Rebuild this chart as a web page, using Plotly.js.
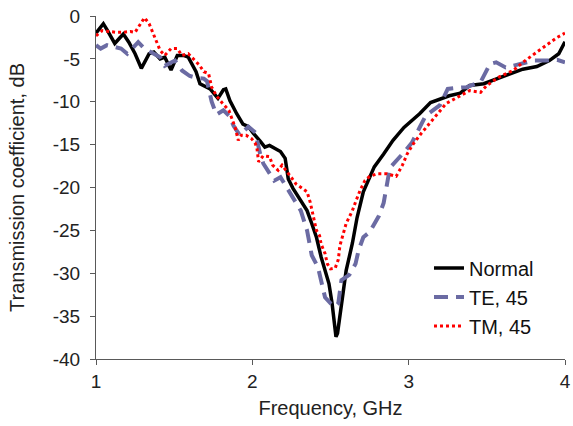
<!DOCTYPE html>
<html>
<head>
<meta charset="utf-8">
<script src="https://cdn.plot.ly/plotly-3.0.1.min.js"></script>
<style>html,body{margin:0;padding:0;background:#fff;}#chart{width:573px;height:426px;}</style>
</head>
<body>
<div id="chart"></div>
<script>
// Frequency (GHz) and transmission coefficient (dB)
const freqNormal = [1.0,1.02,1.047,1.07,1.09,1.12,1.15,1.175,1.21,1.25,1.29,1.34,1.37,1.41,1.44,1.48,1.52,1.56,1.59,1.64,1.665,1.73,1.78,1.815,1.83,1.857,1.9,1.94,1.975,2.007,2.05,2.08,2.11,2.18,2.21,2.23,2.26,2.31,2.35,2.38,2.41,2.44,2.47,2.49,2.51,2.535,2.545,2.56,2.58,2.6,2.64,2.67,2.71,2.75,2.78,2.84,2.9,2.97,3.02,3.07,3.14,3.19,3.26,3.33,3.39,3.48,3.54,3.65,3.73,3.82,3.9,3.96,4.0];
const normal = [-2.0,-1.5,-0.9,-1.6,-2.3,-3.2,-2.6,-2.1,-3.05,-4.4,-6.1,-4.4,-4.2,-5.0,-4.8,-6.3,-4.6,-4.6,-4.8,-6.5,-7.9,-8.5,-9.6,-8.6,-8.5,-9.9,-11.4,-12.6,-12.9,-13.7,-14.6,-15.3,-15.1,-15.8,-16.6,-19.0,-20.1,-21.5,-22.7,-24.2,-25.8,-28.1,-30.0,-31.2,-33.5,-37.4,-37.0,-35.1,-32.0,-29.7,-26.5,-23.5,-20.5,-18.8,-17.6,-16.1,-14.5,-13.0,-12.2,-11.4,-10.1,-9.8,-9.3,-9.0,-8.1,-7.9,-7.5,-6.7,-6.2,-5.9,-5.2,-4.4,-3.0];

const freqTE = [1.0,1.03,1.07,1.12,1.16,1.2,1.27,1.31,1.36,1.41,1.44,1.505,1.55,1.6,1.64,1.69,1.71,1.74,1.77,1.815,1.85,1.88,1.92,1.975,2.02,2.05,2.07,2.1,2.14,2.18,2.25,2.31,2.35,2.38,2.42,2.44,2.465,2.5,2.53,2.55,2.57,2.62,2.66,2.68,2.71,2.75,2.81,2.84,2.86,2.88,2.96,3.02,3.07,3.11,3.2,3.25,3.3,3.37,3.46,3.52,3.56,3.62,3.69,3.8,3.88,3.95,4.0];
const te45 = [-3.4,-3.8,-3.4,-3.6,-3.8,-4.4,-3.05,-3.8,-4.3,-4.8,-5.8,-5.2,-6.35,-7.0,-7.2,-7.3,-7.6,-10.0,-11.5,-11.0,-11.6,-12.8,-13.9,-12.9,-13.6,-16.1,-17.2,-18.0,-19.2,-18.8,-20.8,-22.7,-25.0,-27.9,-29.3,-31.0,-32.8,-33.5,-33.9,-33.5,-30.8,-30.2,-28.9,-27.3,-25.8,-25.2,-23.3,-21.8,-19.6,-17.7,-16.1,-14.8,-13.0,-11.6,-10.4,-8.5,-8.4,-8.3,-7.7,-5.6,-5.4,-6.0,-5.7,-5.2,-5.2,-5.1,-5.4];

const freqTM = [1.0,1.04,1.08,1.13,1.175,1.22,1.25,1.28,1.31,1.34,1.37,1.39,1.41,1.44,1.48,1.52,1.55,1.59,1.62,1.66,1.69,1.72,1.74,1.77,1.81,1.85,1.87,1.89,1.91,1.93,1.96,1.995,2.02,2.03,2.04,2.07,2.11,2.13,2.165,2.19,2.24,2.28,2.32,2.35,2.37,2.39,2.41,2.43,2.44,2.465,2.48,2.5,2.53,2.55,2.56,2.6,2.64,2.66,2.69,2.72,2.75,2.8,2.86,2.92,2.96,2.99,3.03,3.08,3.14,3.19,3.24,3.31,3.39,3.46,3.5,3.58,3.67,3.73,3.8,3.88,3.95,4.0];
const tm45 = [-2.3,-1.7,-1.8,-1.9,-1.9,-1.8,-1.9,-1.1,-0.2,-0.9,-2.3,-3.2,-4.0,-4.6,-3.8,-3.8,-4.6,-4.4,-5.0,-5.7,-6.5,-6.7,-8.3,-9.3,-10.2,-11.0,-12.0,-13.0,-14.5,-13.9,-13.9,-14.3,-14.9,-15.5,-17.0,-16.3,-16.4,-17.4,-18.0,-17.4,-18.6,-19.6,-20.1,-20.5,-21.7,-23.5,-25.0,-25.6,-26.6,-27.7,-28.9,-29.5,-29.4,-28.4,-26.8,-24.2,-22.7,-21.7,-20.3,-19.2,-18.7,-18.4,-18.4,-18.7,-17.4,-16.1,-14.9,-13.7,-12.4,-11.2,-10.2,-9.5,-8.7,-8.9,-8.1,-7.1,-6.35,-5.4,-4.5,-3.5,-2.5,-2.0];

const seriesNames = ["Normal", "TE, 45", "TM, 45"];
const xTickVals = [1, 2, 3, 4];
const yTickVals = [-40, -35, -30, -25, -20, -15, -10, -5, 0];

const font = {family: "Liberation Sans, Arial, sans-serif", size: 19, color: "#222"};
const titleFont = {family: "Liberation Sans, Arial, sans-serif", size: 20, color: "#222"};

const traces = [
  {x: freqNormal, y: normal, name: seriesNames[0], mode: "lines",
   line: {color: "#000000", width: 3.5, shape: "linear"}},
  {x: freqTE, y: te45, name: seriesNames[1], mode: "lines",
   line: {color: "#6b6ba3", width: 4, dash: "14px,8px"}},
  {x: freqTM, y: tm45, name: seriesNames[2], mode: "lines",
   line: {color: "#ff0000", width: 3, dash: "3px,3px"}}
];

const layout = {
  width: 573, height: 426,
  margin: {l: 96, r: 8, t: 15.5, b: 67.3, pad: 0},
  paper_bgcolor: "#ffffff", plot_bgcolor: "#ffffff",
  font: font,
  showlegend: true,
  legend: {x: 0.71, y: 0.322, xanchor: "left", yanchor: "top",
           bgcolor: "rgba(0,0,0,0)", font: {family: font.family, size: 20, color: "#111"},
           tracegroupgap: 0, itemwidth: 30},
  xaxis: {range: [1, 4], tickvals: xTickVals, ticktext: xTickVals.map(String),
          ticks: "outside", ticklen: 5, tickcolor: "#595959", showline: true,
          linecolor: "#595959", linewidth: 1, showgrid: false, zeroline: false,
          tickfont: font, fixedrange: true,
          title: {text: "Frequency, GHz", font: titleFont, standoff: 10}},
  yaxis: {range: [-40, 0], tickvals: yTickVals, ticktext: yTickVals.map(String),
          ticks: "outside", ticklen: 5, tickcolor: "#595959", showline: true,
          linecolor: "#595959", linewidth: 1, showgrid: false, zeroline: false,
          tickfont: font, fixedrange: true, ticklabelstandoff: 6,
          title: {text: "Transmission coefficient, dB", font: titleFont, standoff: 22}}
};

Plotly.newPlot("chart", traces, layout, {displayModeBar: false, staticPlot: true});
</script>
</body>
</html>
